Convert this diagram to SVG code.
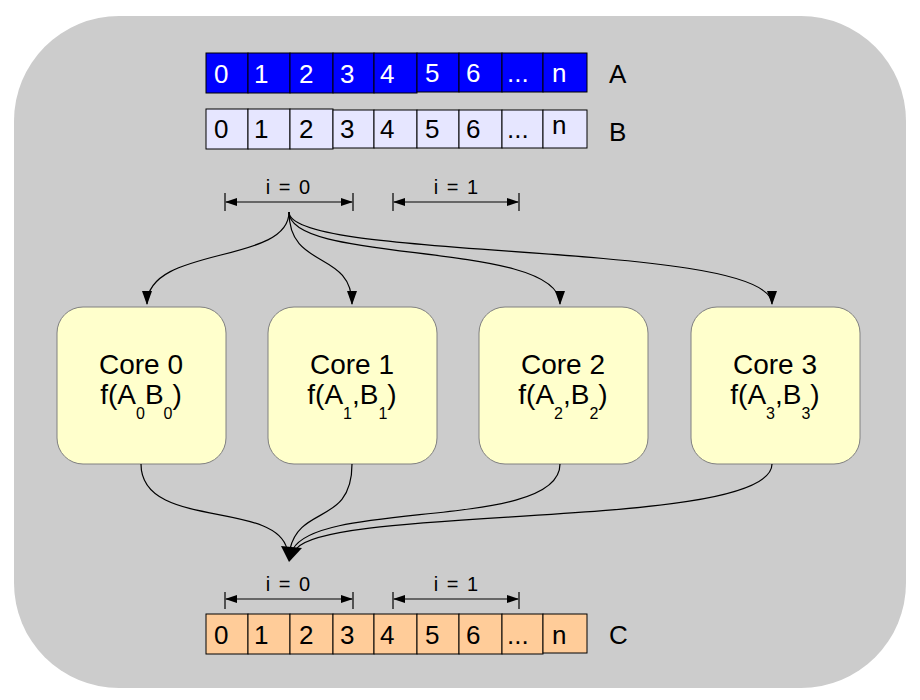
<svg xmlns="http://www.w3.org/2000/svg" width="920" height="700" viewBox="0 0 920 700">
<defs>
<style>
.t{font-family:"Liberation Sans",Arial,sans-serif;}
.cell{font-size:26px;}
.lbl{font-size:26px;fill:#000;}
.br{font-size:20px;fill:#000;word-spacing:3px;}
.core rect{fill:#FFFFCC;stroke:#808080;stroke-width:1;}
.core text{font-size:28px;fill:#000;}
.sub{font-size:16px;}
.conn path{fill:none;stroke:#000;stroke-width:1.2;}
.bl line{stroke:#000;stroke-width:1.2;}
</style>
<marker id="ah" viewBox="0 0 14 10" refX="13" refY="5" markerWidth="14" markerHeight="10" markerUnits="userSpaceOnUse" orient="auto">
<path d="M0,0 L14,5 L0,10 Z" fill="#000"/>
</marker>
<marker id="ahs" viewBox="0 0 12 8" refX="11" refY="4" markerWidth="12" markerHeight="8" markerUnits="userSpaceOnUse" orient="auto-start-reverse">
<path d="M0,0 L12,4 L0,8 Z" fill="#000"/>
</marker>
</defs>
<rect x="0" y="0" width="920" height="700" fill="#fff"/>
<rect x="14" y="16" width="892" height="672" rx="105" ry="105" fill="#CCCCCC"/>

<g id="arrayA" class="t">
<g fill="#0000FF" stroke="#000" stroke-width="1">
<rect x="206" y="53" width="42" height="40"/><rect x="248" y="53" width="42" height="40"/><rect x="290" y="53" width="43" height="40"/><rect x="333" y="53" width="41" height="40"/><rect x="374" y="53" width="43" height="40"/><rect x="417" y="53" width="42" height="39"/><rect x="459" y="53" width="43" height="39"/><rect x="502" y="53" width="41" height="39"/><rect x="543" y="53" width="44" height="39"/>
</g>
<g class="cell" fill="#fff">
<text x="214" y="83">0</text><text x="254" y="83">1</text><text x="299" y="83">2</text><text x="340" y="83">3</text><text x="380" y="83">4</text><text x="425" y="82">5</text><text x="466" y="82">6</text><text x="507" y="82">...</text><text x="552" y="82">n</text>
</g>
<text class="lbl" x="609" y="83">A</text>
</g>

<g id="arrayB" class="t">
<g fill="#E6E6FF" stroke="#000" stroke-width="1">
<rect x="206" y="109" width="42" height="40"/><rect x="248" y="109" width="42" height="40"/><rect x="290" y="109" width="43" height="40"/><rect x="333" y="110" width="41" height="38"/><rect x="374" y="110" width="43" height="38"/><rect x="417" y="110" width="42" height="38"/><rect x="459" y="110" width="43" height="38"/><rect x="502" y="110" width="41" height="38"/><rect x="543" y="110" width="44" height="38"/>
</g>
<g class="cell" fill="#000">
<text x="214" y="138">0</text><text x="254" y="138">1</text><text x="299" y="138">2</text><text x="340" y="138">3</text><text x="380" y="138">4</text><text x="425" y="138">5</text><text x="466" y="138">6</text><text x="507" y="138">...</text><text x="552" y="134">n</text>
</g>
<text class="lbl" x="609" y="141">B</text>
</g>

<g id="bracketsTop" class="t bl">
<line x1="225" y1="193" x2="225" y2="211"/><line x1="353" y1="193" x2="353" y2="211"/>
<line x1="226" y1="202" x2="352" y2="202" marker-start="url(#ahs)" marker-end="url(#ahs)"/>
<text class="br" x="288" y="194" text-anchor="middle">i = 0</text>
<line x1="393" y1="193" x2="393" y2="211"/><line x1="519" y1="193" x2="519" y2="211"/>
<line x1="394" y1="202" x2="518" y2="202" marker-start="url(#ahs)" marker-end="url(#ahs)"/>
<text class="br" x="456" y="194" text-anchor="middle">i = 1</text>
</g>

<g id="core0" class="core t">
<rect x="57" y="307" width="169" height="157" rx="26"/>
<text x="141" y="374" text-anchor="middle">Core 0</text>
<text x="141" y="404" text-anchor="middle">f(A<tspan class="sub" dy="15">0</tspan><tspan dy="-15">B</tspan><tspan class="sub" dy="15">0</tspan><tspan dy="-15">)</tspan></text>
</g>
<g id="core1" class="core t">
<rect x="268" y="307" width="169" height="157" rx="26"/>
<text x="352" y="374" text-anchor="middle">Core 1</text>
<text x="352" y="404" text-anchor="middle">f(A<tspan class="sub" dy="15">1</tspan><tspan dy="-15">,B</tspan><tspan class="sub" dy="15">1</tspan><tspan dy="-15">)</tspan></text>
</g>
<g id="core2" class="core t">
<rect x="479" y="307" width="169" height="157" rx="26"/>
<text x="563" y="374" text-anchor="middle">Core 2</text>
<text x="563" y="404" text-anchor="middle">f(A<tspan class="sub" dy="15">2</tspan><tspan dy="-15">,B</tspan><tspan class="sub" dy="15">2</tspan><tspan dy="-15">)</tspan></text>
</g>
<g id="core3" class="core t">
<rect x="691" y="307" width="169" height="157" rx="26"/>
<text x="775" y="374" text-anchor="middle">Core 3</text>
<text x="775" y="404" text-anchor="middle">f(A<tspan class="sub" dy="15">3</tspan><tspan dy="-15">,B</tspan><tspan class="sub" dy="15">3</tspan><tspan dy="-15">)</tspan></text>
</g>

<g id="connectors" class="conn">
<path d="M289,212 C289,265 147,245 147,304" marker-end="url(#ah)"/>
<path d="M289,212 C289,270 352,250 352,304" marker-end="url(#ah)"/>
<path d="M289,212 C289,265 560,240 560,304" marker-end="url(#ah)"/>
<path d="M289,212 C289,262 772,240 772,304" marker-end="url(#ah)"/>
<path d="M141,464 C141,530 275,500 287,549"/>
<path d="M352,464 C352,525 300,505 290,549"/>
<path d="M560,464 C560,530 320,500 293,549"/>
<path d="M772,464 C772,530 330,505 296,549"/>
<polygon points="281,546 302,548 289,562" fill="#000" stroke="none"/>
</g>

<g id="bracketsBottom" class="t bl">
<line x1="225" y1="592" x2="225" y2="609"/><line x1="353" y1="592" x2="353" y2="609"/>
<line x1="226" y1="599" x2="352" y2="599" marker-start="url(#ahs)" marker-end="url(#ahs)"/>
<text class="br" x="288" y="591" text-anchor="middle">i = 0</text>
<line x1="393" y1="592" x2="393" y2="609"/><line x1="519" y1="592" x2="519" y2="609"/>
<line x1="394" y1="599" x2="518" y2="599" marker-start="url(#ahs)" marker-end="url(#ahs)"/>
<text class="br" x="456" y="591" text-anchor="middle">i = 1</text>
</g>

<g id="arrayC" class="t">
<g fill="#FFCC99" stroke="#000" stroke-width="1">
<rect x="206" y="614" width="42" height="40"/><rect x="248" y="614" width="42" height="40"/><rect x="290" y="614" width="43" height="40"/><rect x="333" y="614" width="41" height="40"/><rect x="374" y="614" width="43" height="40"/><rect x="417" y="614" width="42" height="40"/><rect x="459" y="614" width="43" height="40"/><rect x="502" y="614" width="41" height="40"/><rect x="543" y="614" width="44" height="39"/>
</g>
<g class="cell" fill="#000">
<text x="214" y="644">0</text><text x="254" y="644">1</text><text x="299" y="644">2</text><text x="340" y="644">3</text><text x="380" y="644">4</text><text x="425" y="644">5</text><text x="466" y="644">6</text><text x="507" y="644">...</text><text x="552" y="644">n</text>
</g>
<text class="lbl" x="609" y="644">C</text>
</g>
</svg>
